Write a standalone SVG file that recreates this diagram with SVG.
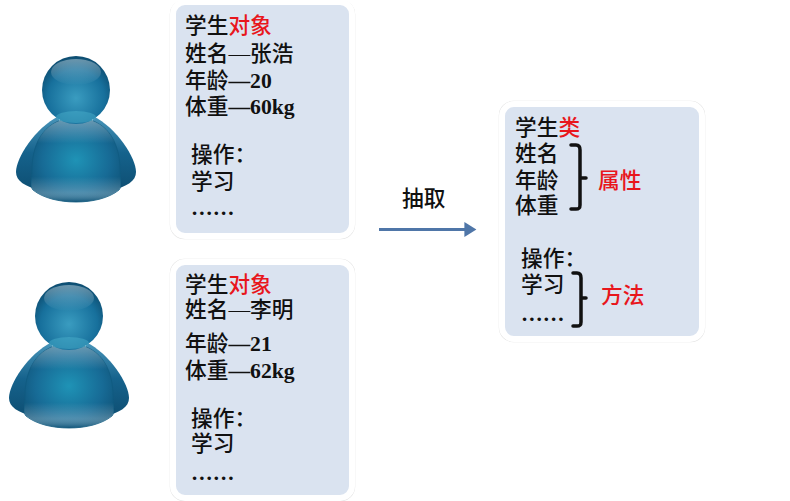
<svg xmlns="http://www.w3.org/2000/svg" width="790" height="501" viewBox="0 0 790 501">
<style>
text{font-family:"Liberation Serif","Noto Sans CJK SC",serif;font-size:21.7px;fill:#111;font-weight:500}
.b{font-weight:bold}
.n{font-weight:500}
.r{fill:#e8161c}
.box{fill:#dae3f0;stroke:#fff;stroke-width:6}
.halo{fill:none;stroke:#e2e2e2;stroke-width:1.500}
.br{fill:none;stroke:#111;stroke-width:3.500;stroke-linejoin:round;stroke-linecap:round}
</style>
<defs>
<radialGradient id="hg" cx="0.5" cy="0.62" r="0.6"><stop offset="0" stop-color="#3a9cc0"/><stop offset="0.7" stop-color="#17709c"/><stop offset="1" stop-color="#0e4f73"/></radialGradient>
<linearGradient id="hs" x1="0" y1="0" x2="0" y2="1"><stop offset="0" stop-color="#fff" stop-opacity="0.38"/><stop offset="1" stop-color="#fff" stop-opacity="0"/></linearGradient>
<radialGradient id="bg" cx="0.5" cy="0.5" r="0.58"><stop offset="0" stop-color="#1f93b6"/><stop offset="0.65" stop-color="#176b96"/><stop offset="1" stop-color="#10557b"/></radialGradient>
<linearGradient id="bs" x1="0" y1="0" x2="0" y2="1"><stop offset="0" stop-color="#fff" stop-opacity="0.4"/><stop offset="0.3" stop-color="#fff" stop-opacity="0"/><stop offset="0.7" stop-color="#fff" stop-opacity="0"/><stop offset="0.88" stop-color="#fff" stop-opacity="0.24"/><stop offset="1" stop-color="#0d4f72" stop-opacity="0.6"/></linearGradient>
<linearGradient id="ag" x1="0" y1="0" x2="0" y2="1"><stop offset="0" stop-color="#4a96ba"/><stop offset="0.5" stop-color="#15628c"/><stop offset="1" stop-color="#0e4f73"/></linearGradient>
<g id="person">
<path d="M42 116C18 128 -1 158 -1 172C-1 181 8 187 24 190L44 170Z" fill="url(#ag)"/>
<path d="M76 116C100 128 119 158 119 172C119 181 110 187 94 190L74 170Z" fill="url(#ag)"/>
<path d="M15 170C15 140 30 118 59 118C88 118 103 140 103 170C103 180 105 187 102 190C92 198 76 202 59 202C42 202 26 198 16 190C13 187 15 180 15 170Z" fill="url(#bg)" stroke="#0f5a80" stroke-width="0.800"/>
<path d="M15 170C15 140 30 118 59 118C88 118 103 140 103 170C103 180 105 187 102 190C92 198 76 202 59 202C42 202 26 198 16 190C13 187 15 180 15 170Z" fill="url(#bs)"/>
<circle cx="59" cy="90" r="34" fill="url(#hg)"/>
<ellipse cx="59" cy="72" rx="25" ry="13" fill="url(#hs)"/>
<ellipse cx="59" cy="117" rx="20" ry="6" fill="#4db4cf" opacity="0.45"/>
</g>
<marker id="ah" markerWidth="5" markerHeight="5" refX="3.2" refY="2.5" orient="auto"><path d="M0 0L4 2.5L0 5Z" fill="#4f76a8"/></marker>
</defs>
<rect width="790" height="501" fill="#fff"/>

<g id="person1"><use href="#person" x="17" y="0"/></g>
<g id="person2"><use href="#person" x="10" y="226"/></g>

<g id="object1">
<rect class="halo" x="170.500" y="0.500" width="184" height="238" rx="14"/>
<rect class="box" x="173" y="2" width="179" height="234" rx="12"/>
<text x="185" y="33">学生<tspan class="r">对象</tspan></text>
<text x="185" y="61">姓名—张浩</text>
<text x="185" y="88" class="b"><tspan class="n">年龄</tspan>—20</text>
<text x="185" y="114" class="b"><tspan class="n">体重</tspan>—60kg</text>
<text x="191" y="162">操作：</text>
<text x="191" y="189">学习</text>
<text x="191" y="215" class="b">……</text>
</g>

<g id="object2">
<rect class="halo" x="170.500" y="259.500" width="184" height="241" rx="14"/>
<rect class="box" x="173" y="262" width="179" height="236" rx="12"/>
<text x="185" y="292">学生<tspan class="r">对象</tspan></text>
<text x="185" y="317">姓名—李明</text>
<text x="185" y="351" class="b"><tspan class="n">年龄</tspan>—21</text>
<text x="185" y="378" class="b"><tspan class="n">体重</tspan>—62kg</text>
<text x="191" y="426">操作：</text>
<text x="191" y="451">学习</text>
<text x="191" y="480" class="b">……</text>
</g>

<g id="class">
<rect class="halo" x="499.500" y="101.500" width="205" height="240" rx="14"/>
<rect class="box" x="502" y="104" width="200" height="235" rx="12"/>
<text x="515" y="135">学生<tspan class="r">类</tspan></text>
<text x="515" y="161">姓名</text>
<text x="515" y="188">年龄</text>
<text x="515" y="213">体重</text>
<path class="br" d="M571 145H576C579 145 580 147 580 150V178H586M580 178V205C580 208 579 209 576 209H571"/>
<text x="598" y="188" class="r">属性</text>
<text x="521" y="266">操作：</text>
<text x="521" y="292">学习</text>
<text x="521" y="321" class="b">……</text>
<path class="br" d="M573 273H577C580 273 581 275 581 278V298H586M581 298V322C581 325 580 326 577 326H573"/>
<text x="601" y="303" class="r">方法</text>
</g>

<g id="connectors">
<path d="M379 229.500H474" fill="none" stroke="#4f76a8" stroke-width="3" marker-end="url(#ah)"/>
</g>
<g id="label"><text x="402" y="206">抽取</text></g>
</svg>
